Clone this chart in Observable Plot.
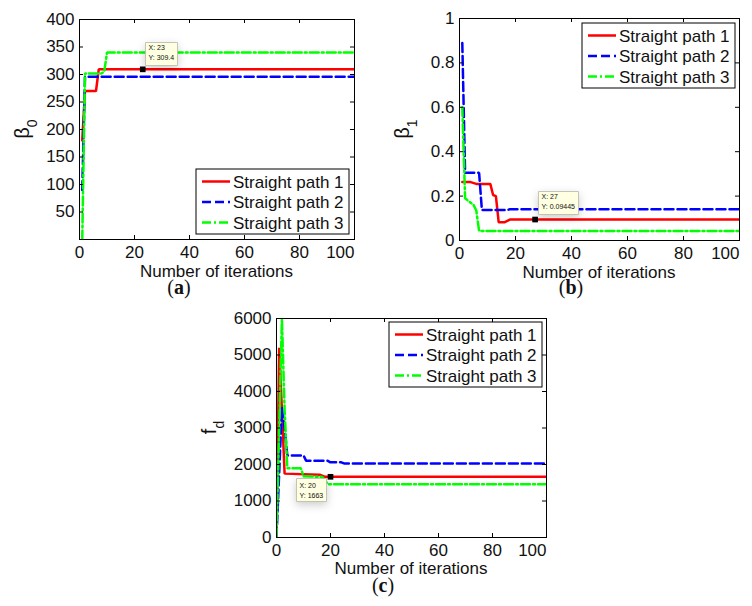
<!DOCTYPE html>
<html><head><meta charset="utf-8">
<script src="https://cdn.jsdelivr.net/npm/d3@7"></script>
<script src="https://cdn.jsdelivr.net/npm/@observablehq/plot@0.6"></script>
<style>
body{margin:0;background:#fff;}
#fig{position:relative;width:752px;height:606px;background:#fff;}
.panel{position:absolute;}
.cap{position:absolute;font-family:"Liberation Serif","DejaVu Serif",serif;font-size:20px;color:#111;transform:translate(-50%,-50%);white-space:nowrap;}
</style></head><body><div id="fig"></div>
<script>
// ---- shared ----
const seriesNames = ["Straight path 1", "Straight path 2", "Straight path 3"];
const seriesColors = ["#ff0000", "#0000ff", "#00ff00"];
const seriesDash = [null, "9,4", "9,3,2,3"];
const xTicks = [0, 20, 40, 60, 80, 100];
const xLabel = "Number of iterations";

// ---- panel (a): beta_0 ----
const aTicks = [50, 100, 150, 200, 250, 300, 350, 400];
const aRedX = [1, 2, 6, 7, 100];
const aRedY = [180, 270, 270, 309.4, 309.4];
const aBlueX = [1, 2, 100];
const aBlueY = [90, 296, 296];
const aGreenX = [1, 2, 8, 9, 10, 100];
const aGreenY = [0, 302, 302, 305, 340, 340];
const aTipX = [23], aTipY = [309.4];

// ---- panel (b): beta_1 ----
const bTicks = [0, 0.2, 0.4, 0.6, 0.8, 1];
const bRedX = [1, 4, 6, 11, 12, 13, 14, 16, 18, 100];
const bRedY = [0.263, 0.263, 0.255, 0.255, 0.205, 0.2, 0.082, 0.082, 0.09445, 0.09445];
const bBlueX = [1, 2, 7, 8, 17, 18, 100];
const bBlueY = [0.89, 0.305, 0.305, 0.137, 0.137, 0.141, 0.141];
const bGreenX = [1, 2, 3, 4, 5, 6, 7, 100];
const bGreenY = [0.6, 0.19, 0.18, 0.17, 0.16, 0.135, 0.043, 0.043];
const bTipX = [27], bTipY = [0.09445];

// ---- panel (c): f_d ----
const cTicks = [0, 1000, 2000, 3000, 4000, 5000, 6000];
const cRedX = [0, 1, 2, 3, 16, 18, 100];
const cRedY = [0, 5200, 3500, 1750, 1720, 1663, 1663];
const cBlueX = [0, 2, 3, 4, 10, 11, 19, 20, 24, 25, 100];
const cBlueY = [0, 3550, 3000, 2250, 2250, 2100, 2100, 2060, 2060, 2030, 2030];
const cGreenX = [0, 2, 3, 4, 9, 10, 17, 19, 100];
const cGreenY = [0, 6000, 3500, 1900, 1900, 1680, 1660, 1460, 1460];
const cTipX = [20], cTipY = [1663];

const FONT = '"Liberation Sans", Arial, sans-serif';

function makePanel(cfg) {
  const W = cfg.width, H = cfg.height, m = cfg.margin;
  const pw = W - m.left - m.right, ph = H - m.top - m.bottom;
  const lines = cfg.series.map((s, i) => Plot.line(
    s.x.map((x, j) => ({x, y: s.y[j]})),
    {x: "x", y: "y", stroke: seriesColors[i], strokeWidth: 2.5,
     strokeDasharray: seriesDash[i], strokeLinejoin: "miter", clip: true}));
  const tipData = cfg.tip.x.map((x, j) => ({x, y: cfg.tip.y[j], label: `X: ${x}\nY: ${cfg.tip.y[j]}`}));
  const xMid = xTicks.slice(0, -1), xLast = xTicks.slice(-1);
  const svg = Plot.plot({
    width: W, height: H,
    marginTop: m.top, marginRight: m.right, marginBottom: m.bottom, marginLeft: m.left,
    style: {fontFamily: FONT, fontSize: "17px", color: "#111", background: "transparent", overflow: "visible"},
    x: {domain: [0, 100]},
    y: {domain: cfg.yDomain},
    marks: [
      ...lines,
      Plot.tickX(xTicks, {x: d => d, insetTop: ph - 4, stroke: "#000"}),
      Plot.tickX(xTicks, {x: d => d, insetBottom: ph - 4, stroke: "#000"}),
      Plot.tickY(cfg.yTicks, {y: d => d, insetRight: pw - 4, stroke: "#000"}),
      Plot.tickY(cfg.yTicks, {y: d => d, insetLeft: pw - 4, stroke: "#000"}),
      Plot.frame({stroke: "#000", strokeWidth: 1}),
      Plot.axisX({ticks: xMid, tickSize: 0, tickPadding: 6, label: null, tickFormat: d => String(d)}),
      Plot.axisX({ticks: xLast, tickSize: 0, tickPadding: 6, label: null, textAnchor: "end", tickFormat: d => String(d)}),
      Plot.axisY({ticks: cfg.yTicks, tickSize: 0, tickPadding: 5, label: null, tickFormat: d => String(d)}),
      Plot.tip(tipData, {x: "x", y: "y", title: "label", anchor: cfg.tip.anchor,
        dx: cfg.tip.dx, dy: cfg.tip.dy, pointerSize: 0, textPadding: 3, lineHeight: 1.45,
        fontSize: 7, fill: "#ffffe1", stroke: "#b8b8a8", strokeWidth: 0.8}),
      Plot.dot(tipData, {x: "x", y: "y", symbol: "square", fill: "#000", r: 3.2})
    ]
  });
  const root = d3.select(svg);
  // x axis title
  root.append("text").attr("x", m.left + pw / 2).attr("y", m.top + ph + cfg.xTitleOffset)
    .attr("text-anchor", "middle").attr("font-family", FONT).attr("font-size", 17).attr("fill", "#111")
    .text(xLabel);
  // y axis title (with subscript)
  const yt = root.append("text")
    .attr("transform", `translate(${cfg.yTitleX},${m.top + ph / 2}) rotate(-90)`)
    .attr("text-anchor", "middle").attr("font-family", FONT).attr("font-size", 20).attr("fill", "#111");
  yt.append("tspan").text(cfg.yTitle[0]);
  yt.append("tspan").attr("baseline-shift", "sub").attr("font-size", 14).text(cfg.yTitle[1]);
  // legend
  const lw = 153, lh = 65;
  const L = m.left + pw - cfg.legend.right - lw;
  const T = cfg.legend.top != null ? m.top + cfg.legend.top : m.top + ph - cfg.legend.bottom - lh;
  const g = root.append("g").attr("text-anchor", "start");
  g.append("rect").attr("x", L).attr("y", T).attr("width", lw).attr("height", lh)
    .attr("fill", "#fff").attr("stroke", "#000").attr("stroke-width", 1);
  seriesNames.forEach((name, i) => {
    const yy = T + 12.5 + i * 20.5;
    g.append("line").attr("x1", L + 6).attr("x2", L + 34).attr("y1", yy).attr("y2", yy)
      .attr("stroke", seriesColors[i]).attr("stroke-width", 2.5)
      .attr("stroke-dasharray", seriesDash[i]);
    g.append("text").attr("x", L + 37).attr("y", yy).attr("dy", "0.36em").attr("text-anchor", "start")
      .attr("font-family", FONT).attr("font-size", 17).attr("fill", "#111").text(name);
  });
  return svg;
}

function place(svg, left, top) {
  const d = document.createElement("div");
  d.className = "panel"; d.style.left = left + "px"; d.style.top = top + "px";
  d.appendChild(svg);
  document.getElementById("fig").appendChild(d);
}
function caption(letter, x, y) {
  const d = document.createElement("div");
  d.className = "cap"; d.style.left = x + "px"; d.style.top = y + "px";
  d.innerHTML = `(<b>${letter}</b>)`;
  document.getElementById("fig").appendChild(d);
}

place(makePanel({
  width: 372, height: 285, margin: {top: 19, right: 18, bottom: 46, left: 79},
  yDomain: [0, 400], yTicks: aTicks,
  series: [{x: aRedX, y: aRedY}, {x: aBlueX, y: aBlueY}, {x: aGreenX, y: aGreenY}],
  tip: {x: aTipX, y: aTipY, anchor: "bottom-left", dx: 3, dy: -4},
  legend: {right: 5, bottom: 5},
  xTitleOffset: 38, yTitleX: 29, yTitle: ["β", "0"]
}), 0, 0);

place(makePanel({
  width: 372, height: 285, margin: {top: 18, right: 13, bottom: 45, left: 79},
  yDomain: [0, 1], yTicks: bTicks,
  series: [{x: bRedX, y: bRedY}, {x: bBlueX, y: bBlueY}, {x: bGreenX, y: bGreenY}],
  tip: {x: bTipX, y: bTipY, anchor: "bottom-left", dx: 3, dy: -5},
  legend: {right: 4, top: 5},
  xTitleOffset: 38, yTitleX: 29, yTitle: ["β", "1"]
}), 380, 0);

place(makePanel({
  width: 372, height: 285, margin: {top: 19, right: 23, bottom: 47, left: 79},
  yDomain: [0, 6000], yTicks: cTicks,
  series: [{x: cRedX, y: cRedY}, {x: cBlueX, y: cBlueY}, {x: cGreenX, y: cGreenY}],
  tip: {x: cTipX, y: cTipY, anchor: "top-right", dx: -4, dy: 2},
  legend: {right: 4, top: 4},
  xTitleOffset: 37, yTitleX: 19, yTitle: ["f", "d"]
}), 197, 299);

caption("a", 179, 287);
caption("b", 571, 287);
caption("c", 383, 585);
</script></body></html>
